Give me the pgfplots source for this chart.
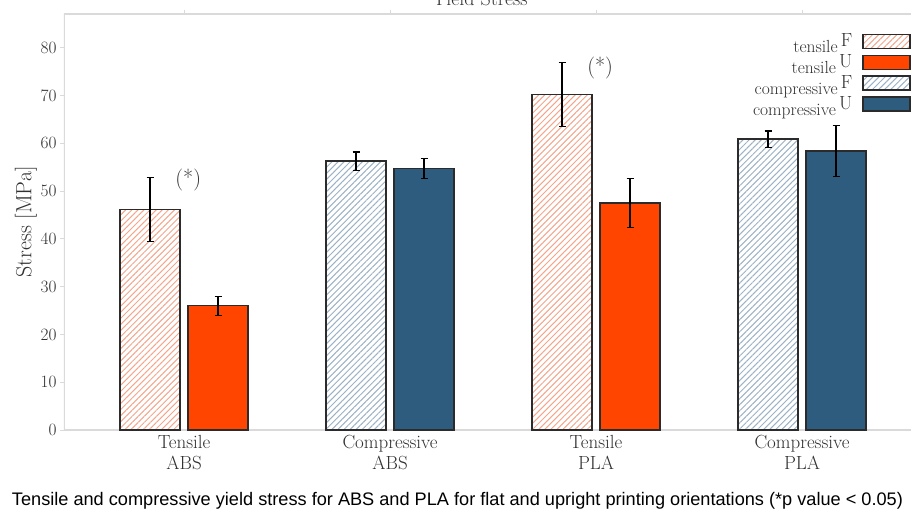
\documentclass[border=0pt]{standalone}
\usepackage{fontspec}
\newfontfamily\capfont{Liberation Sans}
\usepackage{pgfplots}
\pgfplotsset{compat=1.18}
\usetikzlibrary{patterns.meta}
\definecolor{tU}{HTML}{FF4500}
\definecolor{tF}{HTML}{F4A68C}
\definecolor{cU}{HTML}{2D5C7F}
\definecolor{cF}{HTML}{9DB2C4}
\definecolor{edge}{HTML}{2B2B2B}
\definecolor{frame}{HTML}{DADADA}
\definecolor{txt}{HTML}{303030}
\pgfplotsset{eb/.style={error bars/.cd, y dir=both, y explicit,
  error bar style={black, line width=1.2pt},
  error mark options={rotate=90, mark size=3.5pt, black, line width=1.2pt}}}
\begin{document}
\begin{tikzpicture}
\useasboundingbox (0pt,0pt) rectangle (911pt,512pt);
\begin{axis}[
  at={(64pt,82pt)}, anchor=south west,
  scale only axis, width=861pt, height=416pt,
  xmin=-0.583, xmax=3.597, ymin=0, ymax=87.1,
  axis line style={draw=none},
  ytick={0,10,...,80},
  ytick pos=left, ytick align=outside,
  y tick style={frame, line width=1pt}, major tick length=4pt,
  xtick={0,1,2,3},
  xtick pos=upper, xtick align=inside,
  xticklabel pos=lower,
  x tick style={frame, line width=1pt},
  xticklabels={{Tensile\\ABS},{Compressive\\ABS},{Tensile\\PLA},{Compressive\\PLA}},
  xticklabel style={align=center, font=\fontsize{19}{21}\selectfont, text=txt, yshift=2pt},
  yticklabel style={font=\fontsize{17}{19}\selectfont, text=txt},
  ylabel={Stress [MPa]},
  ylabel style={font=\fontsize{22}{24}\selectfont, text=txt, yshift=-3pt},
  ybar, bar width=60pt,
  legend cell align=right,
  legend plot pos=right,
  legend style={draw=none, fill=none, at={(rel axis cs:0.987,0.962)}, anchor=north east,
    font=\fontsize{19}{20}\selectfont, text=txt, row sep=2.5pt,
    /tikz/every odd column/.append style={column sep=8pt}},
  legend image code/.code={\draw[#1, bar shift=0pt] (0pt,-7pt) rectangle (47pt,7pt);},
]
\draw[frame, line width=1.5pt] (rel axis cs:0,0) -- (rel axis cs:0,1) -- (rel axis cs:1,1);
\draw[frame, line width=1.5pt] (rel axis cs:0,0) -- (rel axis cs:1,0);
\addplot[bar shift=-34pt, draw=edge, line width=1.3pt, fill=white,
  postaction={pattern={Lines[angle=45,distance=4.3pt,line width=1pt]}, pattern color=tF}, eb]
  coordinates {(0,46.1) +- (0,6.7) (2,70.2) +- (0,6.7)};
\addlegendentry{\raisebox{-6pt}{\fontsize{17.5}{18}\selectfont tensile}\,F}
\addplot[bar shift=34pt, draw=edge, line width=1.3pt, fill=tU, eb]
  coordinates {(0,26.0) +- (0,2.0) (2,47.5) +- (0,5.1)};
\addlegendentry{\raisebox{-6pt}{\fontsize{17.5}{18}\selectfont tensile}\,U}
\addplot[bar shift=-34pt, draw=edge, line width=1.3pt, fill=white,
  postaction={pattern={Lines[angle=45,distance=4.3pt,line width=1pt]}, pattern color=cF}, eb]
  coordinates {(1,56.3) +- (0,1.9) (3,60.9) +- (0,1.7)};
\addlegendentry{\raisebox{-6pt}{\fontsize{17.5}{18}\selectfont compressive}\,F}
\addplot[bar shift=34pt, draw=edge, line width=1.3pt, fill=cU, eb]
  coordinates {(1,54.7) +- (0,2.1) (3,58.4) +- (0,5.4)};
\addlegendentry{\raisebox{-6pt}{\fontsize{17.5}{18}\selectfont compressive}\,U}
\node[font=\fontsize{22}{24}\selectfont, text=txt] at (axis cs:0.02,52.4) {(*)};
\node[font=\fontsize{22}{24}\selectfont, text=txt] at (axis cs:2.02,75.8) {(*)};
\end{axis}
\node[anchor=base, font=\fontsize{20}{22}\selectfont, text=txt] at (480pt,506pt) {Yield Stress};
\node[anchor=base, inner sep=0pt] at (457.5pt,7pt) {\resizebox{891pt}{!}{\capfont\fontsize{15.5}{18}\selectfont Tensile and compressive yield stress for ABS and PLA for flat and upright printing orientations (*p value < 0.05)}};
\end{tikzpicture}
\end{document}
